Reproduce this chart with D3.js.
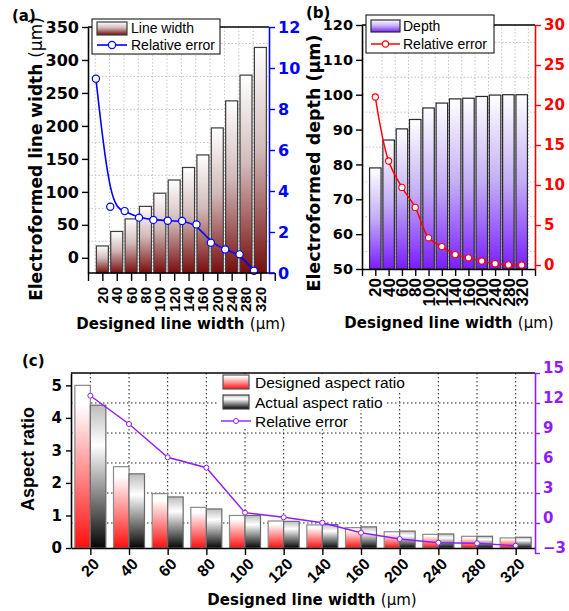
<!DOCTYPE html>
<html><head><meta charset="utf-8">
<script src="https://cdn.jsdelivr.net/npm/d3@7"></script>
<style>body{margin:0;background:#fff}svg{display:block}</style>
</head><body>
<svg id="c" width="569" height="611"></svg>
<script>
// ---------- data ----------
const categories = ["20","40","60","80","100","120","140","160","200","240","280","320"];
const lineWidth = [18,40,59,78,98,118,137,156,197,238,277,319];
const lineWidthError = [9.48,3.23,3.02,2.70,2.59,2.55,2.54,2.37,1.48,1.15,0.91,0.11];
const depth = [79,87,90.2,92.9,96.2,97.6,98.8,99.0,99.5,99.9,100,100];
const depthError = [21.0,13.0,9.7,7.2,3.4,2.3,1.3,0.9,0.5,0.17,0.02,0.0];
const designedAR = [5.0,2.5,1.67,1.25,1.0,0.83,0.71,0.625,0.5,0.42,0.36,0.31];
const actualAR = [4.39,2.28,1.57,1.2,1.0,0.82,0.72,0.65,0.52,0.43,0.36,0.33];
const arError = [12.73,9.9,6.57,5.53,1.03,0.57,0.03,-0.97,-1.6,-1.97,-2.03,-2.27];

const ticksA_left = [0,50,100,150,200,250,300,350];
const ticksA_right = [0,2,4,6,8,10,12];
const ticksB_left = [50,60,70,80,90,100,110,120];
const ticksB_right = [0,5,10,15,20,25,30];
const ticksC_left = [0,1,2,3,4,5];
const ticksC_right = [-3,0,3,6,9,12,15];

// ---------- setup ----------
const svg = d3.select("#c");
const WIDE = "'DejaVu Sans', sans-serif";
const ARIAL = "'Liberation Sans', Arial, sans-serif";
const BLUE = "#0000ff", RED = "#ff0000", PURPLE = "#8f1cff";

const defs = svg.append("defs");
function grad(id, stops){
  const g = defs.append("linearGradient").attr("id", id).attr("x1",0).attr("y1",0).attr("x2",0).attr("y2",1);
  stops.forEach(s => g.append("stop").attr("offset", s[0]).attr("stop-color", s[1]));
}
grad("gA", [[0,"#ffffff"],[0.45,"#d2baba"],[1,"#780c0c"]]);
grad("gB", [[0,"#ffffff"],[0.5,"#c3adf6"],[1,"#7a1cff"]]);
grad("gCd", [[0,"#ffffff"],[0.12,"#ffffff"],[1,"#ff0f0f"]]);
grad("gCa", [[0,"#bdbdbd"],[0.28,"#ffffff"],[1,"#050505"]]);

function styleAxis(g, color, size, family){
  g.select(".domain").attr("stroke", color).attr("stroke-width", 1.6);
  g.selectAll(".tick line").attr("stroke", color).attr("stroke-width", 1.4);
  g.selectAll(".tick text").attr("fill", color)
    .style("font-family", family).style("font-weight", "bold").style("font-size", size + "px");
}
function gridDots(g, x1, y1, x2, y2, color, dash){
  g.append("line").attr("x1",x1).attr("y1",y1).attr("x2",x2).attr("y2",y2)
    .attr("stroke", color).attr("stroke-width", 1).attr("stroke-dasharray", dash);
}

// =================== Panel (a) ===================
{
  const L=88, R=269, T=27, B=273;
  const x = d3.scaleLinear().domain([-1, 11.6]).range([L, R]);
  const y = d3.scaleLinear().domain([-23, 350]).range([B, T]);
  const yR = d3.scaleLinear().domain([0, 12]).range([B, T]);
  const g = svg.append("g");
  const grid = g.append("g");
  d3.range(25, 350, 50).forEach(v => gridDots(grid, L, y(v), R, y(v), "#c4c4c4", "1.5,2"));
  categories.forEach((c,i) => gridDots(grid, x(i-0.5), T, x(i-0.5), B, "#c4c4c4", "1.5,2"));
  const bw = 12;
  g.selectAll("rect.bar").data(lineWidth).join("rect")
    .attr("x", (d,i) => x(i) - bw/2).attr("width", bw)
    .attr("y", d => y(d)).attr("height", d => y(-23) - y(d))
    .attr("fill", "url(#gA)").attr("stroke", "#3c3c3c").attr("stroke-width", 1.2);
  const line = d3.line().x((d,i) => x(i-0.45)).y(d => yR(d)).curve(d3.curveBasis);
  g.append("path").datum(lineWidthError).attr("d", line).attr("fill","none").attr("stroke", BLUE).attr("stroke-width", 1.6);
  g.selectAll("circle.pt").data(lineWidthError).join("circle")
    .attr("cx", (d,i) => x(i-0.45)).attr("cy", d => yR(d)).attr("r", 3.6)
    .attr("fill","#fff").attr("stroke", BLUE).attr("stroke-width", 1.2);
  g.append("line").attr("x1",L).attr("x2",R).attr("y1",T).attr("y2",T).attr("stroke","#000").attr("stroke-width",1.6);
  const ax = g.append("g").attr("transform",`translate(0,${B})`)
    .call(d3.axisBottom(x).tickValues(d3.range(-1,13)).tickFormat("").tickSize(8).tickSizeOuter(0));
  styleAxis(ax, "#000", 15, ARIAL);
  ax.select(".domain").attr("d", `M${L},0H${x(12)}`);
  categories.forEach((c,i) => g.append("text").attr("transform",`translate(${x(i)},287) rotate(-90)`)
    .attr("text-anchor","end").attr("dy","0.36em").style("font",`bold 15px ${ARIAL}`).text(c));
  const al = g.append("g").attr("transform",`translate(${L},0)`)
    .call(d3.axisLeft(y).tickValues(ticksA_left).tickSize(6).tickPadding(3).tickSizeOuter(0));
  styleAxis(al, "#000", 16, WIDE);
  const ar = g.append("g").attr("transform",`translate(${R},0)`)
    .call(d3.axisRight(yR).tickValues(ticksA_right).tickSize(6).tickPadding(3).tickSizeOuter(0));
  styleAxis(ar, BLUE, 16, WIDE);
  g.append("text").attr("x",181).attr("y",329).attr("text-anchor","middle")
    .style("font",`bold 15px ${WIDE}`).html('Designed line width <tspan style="font-weight:normal">(μm)</tspan>');
  g.append("text").attr("transform","translate(42,159) rotate(-90)").attr("text-anchor","middle")
    .style("font",`bold 17px ${WIDE}`).html('Electroformed line width <tspan style="font-weight:normal">(μm)</tspan>');
  g.append("text").attr("x",12).attr("y",21).style("font",`bold 15px ${WIDE}`).text("(a)");
  const lg = g.append("g");
  lg.append("rect").attr("x",92).attr("y",19).attr("width",128).attr("height",35).attr("fill","#fff").attr("stroke","#000").attr("stroke-width",1);
  lg.append("rect").attr("x",97).attr("y",22).attr("width",30).attr("height",13).attr("fill","url(#gA)").attr("stroke","#3c3c3c").attr("stroke-width",1.2);
  lg.append("text").attr("x",131).attr("y",33).style("font",`14px ${ARIAL}`).text("Line width");
  lg.append("line").attr("x1",97).attr("x2",127).attr("y1",45).attr("y2",45).attr("stroke",BLUE).attr("stroke-width",1.6);
  lg.append("circle").attr("cx",112).attr("cy",45).attr("r",3.6).attr("fill","#fff").attr("stroke",BLUE).attr("stroke-width",1.2);
  lg.append("text").attr("x",131).attr("y",50).style("font",`14px ${ARIAL}`).text("Relative error");
}

// =================== Panel (b) ===================
{
  const L=362, R=535, T=25, B=269;
  const x = d3.scaleLinear().domain([-1, 12]).range([L, R]);
  const y = d3.scaleLinear().domain([50, 120]).range([B, T]);
  const yR = d3.scaleLinear().domain([-0.5, 30]).range([B, T]);
  const g = svg.append("g");
  const grid = g.append("g");
  d3.range(55, 120, 10).forEach(v => gridDots(grid, L, y(v), R, y(v), "#c4c4c4", "1.5,2"));
  d3.range(0, 12).forEach(i => gridDots(grid, x(i+0.5), T, x(i+0.5), B, "#c4c4c4", "1.5,2"));
  const bw = 11.5;
  g.selectAll("rect.bar").data(depth).join("rect")
    .attr("x", (d,i) => x(i) - bw/2).attr("width", bw)
    .attr("y", d => y(d)).attr("height", d => y(50) - y(d))
    .attr("fill", "url(#gB)").attr("stroke", "#2a2a2a").attr("stroke-width", 1.2);
  const line = d3.line().x((d,i) => x(i)).y(d => yR(d)).curve(d3.curveCatmullRom.alpha(0.5));
  g.append("path").datum(depthError).attr("d", line).attr("fill","none").attr("stroke", RED).attr("stroke-width", 1.5);
  g.selectAll("circle.pt").data(depthError).join("circle")
    .attr("cx", (d,i) => x(i)).attr("cy", d => yR(d)).attr("r", 3.1)
    .attr("fill","#fff").attr("stroke", RED).attr("stroke-width", 1.1);
  g.append("line").attr("x1",L).attr("x2",R).attr("y1",T).attr("y2",T).attr("stroke","#000").attr("stroke-width",1.6);
  const ax = g.append("g").attr("transform",`translate(0,${B})`)
    .call(d3.axisBottom(x).tickValues(d3.range(-1,13)).tickFormat("").tickSize(7).tickSizeOuter(0));
  styleAxis(ax, "#000", 15, ARIAL);
  categories.forEach((c,i) => g.append("text").attr("transform",`translate(${x(i)},278) rotate(-90)`)
    .attr("text-anchor","end").attr("dy","0.36em").style("font",`bold 17px ${ARIAL}`).text(c));
  const al = g.append("g").attr("transform",`translate(${L},0)`)
    .call(d3.axisLeft(y).tickValues(ticksB_left).tickSize(6).tickPadding(3).tickSizeOuter(0));
  styleAxis(al, "#000", 14.5, WIDE);
  const ar = g.append("g").attr("transform",`translate(${R},0)`)
    .call(d3.axisRight(yR).tickValues(ticksB_right).tickSize(6).tickPadding(3).tickSizeOuter(0));
  styleAxis(ar, RED, 15, WIDE);
  g.append("text").attr("x",449).attr("y",328).attr("text-anchor","middle")
    .style("font",`bold 15px ${WIDE}`).html('Designed line width <tspan style="font-weight:normal">(μm)</tspan>');
  g.append("text").attr("transform","translate(320,163) rotate(-90)").attr("text-anchor","middle")
    .style("font",`bold 17.5px ${WIDE}`).text('Electroformed depth (μm)');
  g.append("text").attr("x",306).attr("y",18).style("font",`bold 15px ${WIDE}`).text("(b)");
  const lg = g.append("g");
  lg.append("rect").attr("x",366).attr("y",15).attr("width",128).attr("height",38).attr("fill","#fff").attr("stroke","#000").attr("stroke-width",1);
  lg.append("rect").attr("x",371).attr("y",20).attr("width",29).attr("height",12).attr("fill","url(#gB)").attr("stroke","#2a2a2a").attr("stroke-width",1.2);
  lg.append("text").attr("x",403).attr("y",31).style("font",`14px ${ARIAL}`).text("Depth");
  lg.append("line").attr("x1",371).attr("x2",400).attr("y1",44).attr("y2",44).attr("stroke",RED).attr("stroke-width",1.5);
  lg.append("circle").attr("cx",385.5).attr("cy",44).attr("r",3.1).attr("fill","#fff").attr("stroke",RED).attr("stroke-width",1.1);
  lg.append("text").attr("x",403).attr("y",49).style("font",`14px ${ARIAL}`).text("Relative error");
}

// =================== Panel (c) ===================
{
  const L=71, R=535, T=373, B=548;
  const x = d3.scaleLinear().domain([-0.5, 11.5]).range([L, R]);
  const y = d3.scaleLinear().domain([0, 5.38]).range([B, T]);
  const yR = d3.scaleLinear().domain([-3, 15]).range([553, 373]);
  const g = svg.append("g");
  const grid = g.append("g");
  [0,3,6,9,12].forEach(v => gridDots(grid, L, yR(v), R, yR(v), "#222", "1.5,2.5"));
  d3.range(0, 12).forEach(i => gridDots(grid, x(i), T, x(i), B, "#222", "1.5,2.5"));
  const bw = 15.5;
  g.selectAll("rect.d").data(designedAR).join("rect")
    .attr("x", (d,i) => x(i) - bw).attr("width", bw)
    .attr("y", d => y(d)).attr("height", d => y(0) - y(d))
    .attr("fill", "url(#gCd)").attr("stroke", "#8a8a8a").attr("stroke-width", 1.2);
  g.selectAll("rect.a").data(actualAR).join("rect")
    .attr("x", (d,i) => x(i)).attr("width", bw)
    .attr("y", d => y(d)).attr("height", d => y(0) - y(d))
    .attr("fill", "url(#gCa)").attr("stroke", "#6a6a6a").attr("stroke-width", 1.2);
  const line = d3.line().x((d,i) => x(i)).y(d => yR(d));
  g.append("path").datum(arError).attr("d", line).attr("fill","none").attr("stroke", PURPLE).attr("stroke-width", 1.4);
  g.selectAll("circle.pt").data(arError).join("circle")
    .attr("cx", (d,i) => x(i)).attr("cy", d => yR(d)).attr("r", 2.5)
    .attr("fill","#fff").attr("stroke", PURPLE).attr("stroke-width", 1);
  const lg = g.append("g");
  lg.append("rect").attr("x",219).attr("y",374).attr("width",188).attr("height",18).attr("fill","#fff");
  lg.append("rect").attr("x",219).attr("y",392).attr("width",168).attr("height",18).attr("fill","#fff");
  lg.append("rect").attr("x",219).attr("y",410).attr("width",132).attr("height",18).attr("fill","#fff");
  lg.append("rect").attr("x",223).attr("y",375).attr("width",26).attr("height",14).attr("fill","url(#gCd)").attr("stroke","#555").attr("stroke-width",1.2);
  lg.append("text").attr("x",255).attr("y",388).style("font",`15.5px ${ARIAL}`).text("Designed aspect ratio");
  lg.append("rect").attr("x",223).attr("y",395).attr("width",26).attr("height",14).attr("fill","url(#gCa)").attr("stroke","#444").attr("stroke-width",1.2);
  lg.append("text").attr("x",255).attr("y",408).style("font",`15.5px ${ARIAL}`).text("Actual aspect ratio");
  lg.append("line").attr("x1",221).attr("x2",251).attr("y1",421).attr("y2",421).attr("stroke",PURPLE).attr("stroke-width",1.4);
  lg.append("circle").attr("cx",236).attr("cy",421).attr("r",2.5).attr("fill","#fff").attr("stroke",PURPLE).attr("stroke-width",1);
  lg.append("text").attr("x",255).attr("y",427).style("font",`15.5px ${ARIAL}`).text("Relative error");
  g.append("line").attr("x1",L).attr("x2",R).attr("y1",T).attr("y2",T).attr("stroke","#000").attr("stroke-width",1.6);
  const ax = g.append("g").attr("transform",`translate(0,${B})`)
    .call(d3.axisBottom(x).tickValues(d3.range(0,12)).tickFormat("").tickSize(7).tickSizeOuter(0));
  styleAxis(ax, "#000", 15, ARIAL);
  categories.forEach((c,i) => g.append("text").attr("transform",`translate(${x(i)+6},561) rotate(-45)`)
    .attr("text-anchor","end").attr("dy","0.36em").style("font",`bold 16px ${ARIAL}`).text(c));
  const al = g.append("g").attr("transform",`translate(${L},0)`)
    .call(d3.axisLeft(y).tickValues(ticksC_left).tickFormat(d3.format("d")).tickSize(5).tickPadding(4).tickSizeOuter(0));
  styleAxis(al, "#000", 15, WIDE);
  const ar = g.append("g").attr("transform",`translate(${R},0)`)
    .call(d3.axisRight(yR).tickValues(ticksC_right).tickFormat(d3.format("d")).tickSize(5).tickPadding(3).tickSizeOuter(0));
  styleAxis(ar, PURPLE, 15, WIDE);
  ar.selectAll(".tick text").attr("y", -5);
  g.append("text").attr("x",312).attr("y",605).attr("text-anchor","middle")
    .style("font",`bold 15px ${WIDE}`).html('Designed line width <tspan style="font-weight:normal">(μm)</tspan>');
  g.append("text").attr("transform","translate(34,459) rotate(-90)").attr("text-anchor","middle")
    .style("font",`bold 18px ${ARIAL}`).text('Aspect ratio');
  g.append("text").attr("x",22).attr("y",366).style("font",`bold 15px ${WIDE}`).text("(c)");
}
</script>
</body></html>
